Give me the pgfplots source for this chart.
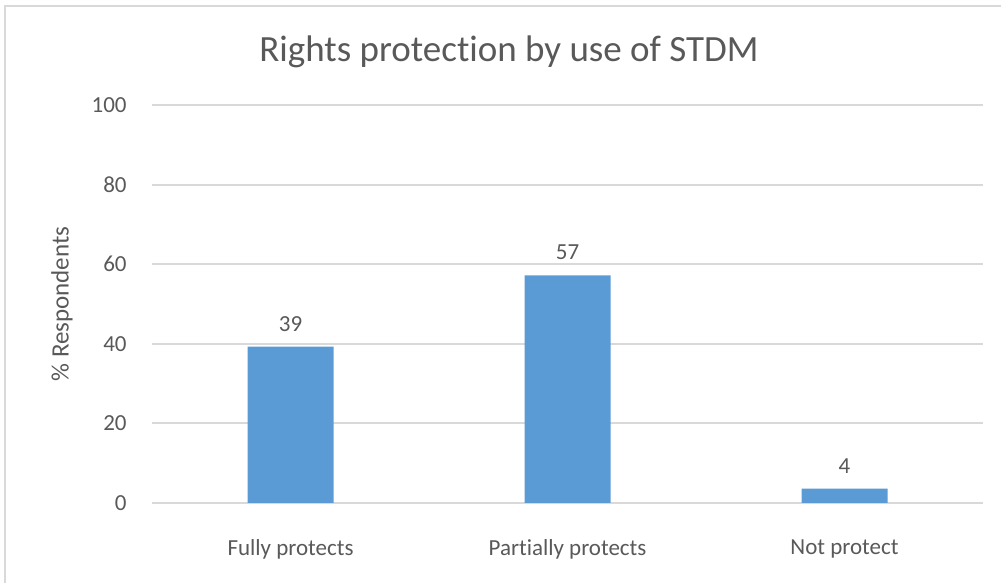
\documentclass[border=0pt]{standalone}
\usepackage{pgfplots}
\pgfplotsset{compat=1.18}
\usepackage{fontspec}
\setmainfont{Carlito}[Ligatures=NoCommon]
\definecolor{barblue}{HTML}{5B9BD5}
\definecolor{txt}{HTML}{595959}
\definecolor{gridgray}{HTML}{D9D9D9}
\begin{document}
\begin{tikzpicture}[x=0.5pt,y=0.5pt]
  % picture frame, 1 px = 0.5pt
  \path[use as bounding box] (0,0) rectangle (1001,583);
  \draw[gridgray, line width=1pt] (5,0) -- (5,577) -- (1001,577);
  \begin{axis}[
    at={(76pt,40pt)}, anchor=south west,
    scale only axis,
    width=415.5pt, height=199pt,
    xmin=0, xmax=3,
    ymin=0, ymax=100,
    ytick={0,20,...,100},
    xtick={0.5,1.5,2.5},
    xticklabels={Fully protects,Partially protects,Not protect},
    axis line style={draw=none},
    tick style={draw=none},
    ymajorgrids, xmajorgrids=false,
    grid style={gridgray, line width=1pt},
    ticklabel style={font=\fontsize{11.5}{13}\selectfont, text=txt},
    /pgf/number format/assume math mode=true,
    yticklabel style={inner sep=0pt, xshift=-12.5pt},
    xticklabel style={inner sep=0pt, yshift=-14pt},
    ybar, bar width=43pt,
    nodes near coords,
    point meta=explicit symbolic,
    nodes near coords style={font=\fontsize{11.5}{13}\selectfont, text=txt, inner sep=0pt, yshift=7.5pt},
  ]
    \addplot[fill=barblue, draw=none] table[meta=lab] {
      x   y     lab
      0.5 39.3  39
      1.5 57.2  57
      2.5 3.6   4
    };
  \end{axis}
  \node[font=\fontsize{18.5}{21}\selectfont, text=txt] at (509,531) {Rights protection by use of STDM};
  \node[font=\fontsize{12.5}{15}\selectfont, text=txt, rotate=90] at (62,279) {\% Respondents};
\end{tikzpicture}
\end{document}
